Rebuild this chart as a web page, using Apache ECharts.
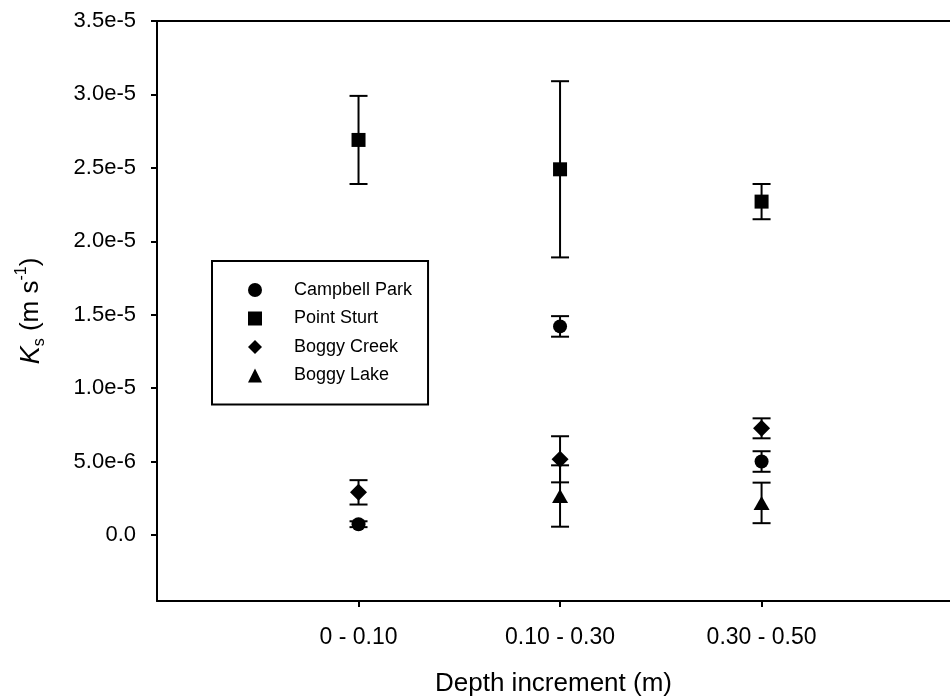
<!DOCTYPE html>
<html>
<head>
<meta charset="utf-8">
<script src="https://cdn.jsdelivr.net/npm/echarts@6.0.0/dist/echarts.min.js"></script>
<style>html,body{margin:0;padding:0;background:#fff}#container{width:950px;height:698px}</style>
</head>
<body>
<div id="container"></div>
<script>
// depth increments on the x axis (placed at 1, 2, 3)
var depths = ['0 - 0.10', '0.10 - 0.30', '0.30 - 0.50'];
var sites = ['Campbell Park', 'Point Sturt', 'Boggy Creek', 'Boggy Lake'];
var siteSymbols = ['circle', 'rect', 'diamond', 'triangle'];
var siteSizes = [14, 14, 17, [16, 14]];

// Ks means and error (one side)
var campbellMean = [7.3e-7, 1.42e-5, 5.0e-6];
var campbellErr = [2.0e-7, 7.0e-7, 7.0e-7];
var sturtMean = [2.69e-5, 2.49e-5, 2.27e-5];
var sturtErr = [3.0e-6, 6.0e-6, 1.2e-6];
var creekMean = [2.9e-6, 5.15e-6, 7.26e-6];
var creekErr = [8.3e-7, 1.57e-6, 6.8e-7];
var lakeMean = [null, 2.65e-6, 2.18e-6];
var lakeErr = [null, 2.09e-6, 1.38e-6];

var yTicks = [0, 5e-6, 1e-5, 1.5e-5, 2e-5, 2.5e-5, 3e-5, 3.5e-5];
var yTickLabels = ['0.0', '5.0e-6', '1.0e-5', '1.5e-5', '2.0e-5', '2.5e-5', '3.0e-5', '3.5e-5'];
var xTicks = [1, 2, 3];

var font = 'Liberation Sans';
var means = [campbellMean, sturtMean, creekMean, lakeMean];
var errs = [campbellErr, sturtErr, creekErr, lakeErr];

function errorBars(mean, err) {
    var d = [];
    for (var i = 0; i < mean.length; i++) {
        if (mean[i] != null) d.push([i + 1, mean[i] - err[i], mean[i] + err[i]]);
    }
    return {
        type: 'custom', silent: true, z: 1,
        encode: {x: 0, y: [1, 2]},
        data: d,
        renderItem: function (params, api) {
            var x = api.value(0);
            var lo = api.coord([x, api.value(1)]);
            var hi = api.coord([x, api.value(2)]);
            var hw = 9;
            var st = {stroke: '#000', lineWidth: 2};
            return {type: 'group', children: [
                {type: 'line', shape: {x1: lo[0], y1: lo[1], x2: hi[0], y2: hi[1]}, style: st},
                {type: 'line', shape: {x1: lo[0] - hw, y1: lo[1], x2: lo[0] + hw, y2: lo[1]}, style: st},
                {type: 'line', shape: {x1: hi[0] - hw, y1: hi[1], x2: hi[0] + hw, y2: hi[1]}, style: st}
            ]};
        }
    };
}

var series = [];
for (var s = 0; s < sites.length; s++) {
    series.push(errorBars(means[s], errs[s]));
}
for (var s = 0; s < sites.length; s++) {
    var pts = [];
    for (var i = 0; i < depths.length; i++) {
        if (means[s][i] != null) pts.push([i + 1, means[s][i]]);
    }
    series.push({
        type: 'scatter', name: sites[s], z: 3,
        symbol: siteSymbols[s], symbolSize: siteSizes[s],
        itemStyle: {color: '#000', opacity: 1},
        data: pts
    });
}

var chart = echarts.init(document.getElementById('container'));
chart.setOption({
    animation: false,
    backgroundColor: '#fff',
    grid: {left: 157, right: 0, top: 21, bottom: 97, outerBoundsMode: 'none', containLabel: false},
    legend: {
        orient: 'vertical', left: 212, top: 261,
        data: sites.map(function (n, i) { return {name: n, icon: siteSymbols[i]}; }),
        itemWidth: 14, itemHeight: 14, itemGap: 8.5,
        padding: [19, 16, 19, 36],
        borderColor: '#000', borderWidth: 2, borderRadius: 0,
        selectedMode: false,
        itemStyle: {color: '#000'},
        textStyle: {fontFamily: font, fontSize: 18, color: '#000', lineHeight: 20, padding: [0, 0, 0, 27]}
    },
    xAxis: [{
        type: 'value', min: 0, max: 3.935, position: 'bottom',
        axisLine: {onZero: false, lineStyle: {color: '#000', width: 2}},
        axisTick: {customValues: xTicks, length: 6, lineStyle: {color: '#000', width: 2}},
        axisLabel: {
            customValues: xTicks, margin: 25, fontSize: 23, color: '#000', fontFamily: font,
            formatter: function (v) { return depths[Math.round(v) - 1] || ''; }
        },
        splitLine: {show: false},
        name: 'Depth increment (m)', nameLocation: 'middle', nameGap: 70,
        nameTextStyle: {fontFamily: font, fontSize: 26, color: '#000'}
    }, {
        type: 'value', min: 0, max: 3.935, position: 'top',
        axisLine: {onZero: false, lineStyle: {color: '#000', width: 2}},
        axisTick: {show: false}, axisLabel: {show: false}, splitLine: {show: false}
    }],
    yAxis: {
        type: 'value', min: -4.5e-6, max: 3.5e-5,
        axisLine: {show: true, onZero: false, lineStyle: {color: '#000', width: 2}},
        axisTick: {show: true, customValues: yTicks, length: 6, lineStyle: {color: '#000', width: 2}},
        axisLabel: {
            customValues: yTicks, margin: 21, fontSize: 22, color: '#000', fontFamily: font,
            formatter: function (v) {
                var best = 0;
                for (var i = 0; i < yTicks.length; i++) {
                    if (Math.abs(yTicks[i] - v) < Math.abs(yTicks[best] - v)) best = i;
                }
                return yTickLabels[best];
            }
        },
        splitLine: {show: false},
        name: '{k|K}{s|s}{t| (m s}{e|-1}{t|)}',
        nameLocation: 'middle', nameGap: 109, nameRotate: 90,
        nameTextStyle: {
            fontFamily: font, fontSize: 26, color: '#000',
            rich: {
                k: {fontFamily: font, fontSize: 27, fontStyle: 'italic', color: '#000', lineHeight: 34},
                s: {fontFamily: font, fontSize: 16, color: '#000', lineHeight: 34, verticalAlign: 'bottom'},
                t: {fontFamily: font, fontSize: 26, color: '#000', lineHeight: 34},
                e: {fontFamily: font, fontSize: 16, color: '#000', lineHeight: 34, verticalAlign: 'top'}
            }
        }
    },
    series: series
});
</script>
</body>
</html>
